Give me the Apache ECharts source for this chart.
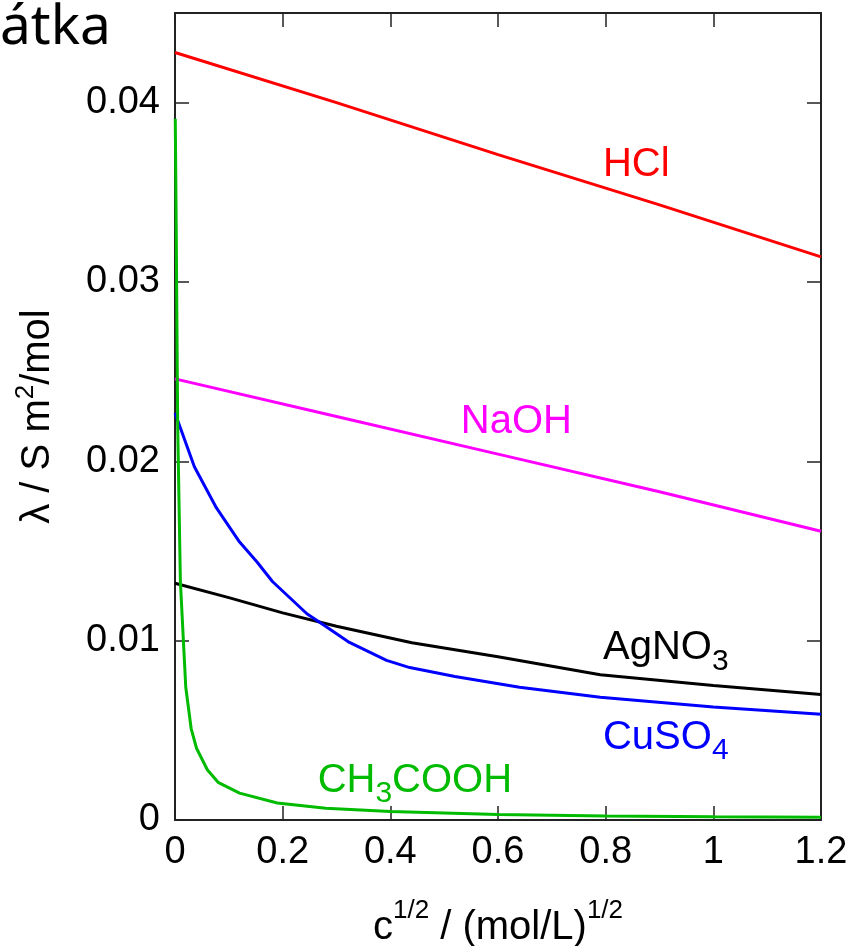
<!DOCTYPE html>
<html><head><meta charset="utf-8">
<script src="https://cdn.jsdelivr.net/npm/echarts@6/dist/echarts.min.js"></script>
<style>html,body{margin:0;padding:0;background:#fff}#c{width:849px;height:946px}</style>
</head><body><div id="c"></div>
<script>
// ---- data (x = sqrt(c) in (mol/L)^1/2, y = molar conductivity in S m^2/mol) ----
const xTickLabels = ['0', '0.2', '0.4', '0.6', '0.8', '1', '1.2'];
const yTickLabels = ['0', '0.01', '0.02', '0.03', '0.04'];

const hclX = [0, 0.3, 0.6, 0.9, 1.2];
const hclY = [0.0428, 0.0400, 0.0371, 0.0343, 0.0314];

const naohX = [0, 0.3, 0.6, 0.9, 1.2];
const naohY = [0.0246, 0.0225, 0.0204, 0.0183, 0.0161];

const agno3X = [0, 0.1, 0.2, 0.3, 0.44, 0.6, 0.79, 1.0, 1.2];
const agno3Y = [0.0132, 0.0124, 0.01155, 0.0108, 0.00988, 0.0091, 0.0081, 0.0075, 0.0070];

const cuso4X = [0, 0.036, 0.077, 0.12, 0.152, 0.181, 0.245, 0.27, 0.324, 0.393, 0.436, 0.52, 0.64, 0.79, 1.0, 1.2];
const cuso4Y = [0.0227, 0.0197, 0.0174, 0.0155, 0.0144, 0.0133, 0.0115, 0.0110, 0.0099, 0.0089, 0.0085, 0.0080, 0.0074, 0.00685, 0.0063, 0.0059];

const aceticX = [0.0005, 0.002, 0.005, 0.01, 0.02, 0.03, 0.04, 0.06, 0.08, 0.12, 0.19, 0.28, 0.4, 0.6, 0.8, 1.0, 1.2];
const aceticY = [0.0391, 0.0340, 0.0220, 0.0133, 0.0074, 0.0051, 0.0040, 0.0028, 0.0021, 0.0015, 0.00095, 0.00065, 0.00047, 0.00030, 0.00023, 0.00018, 0.00015];

const seriesNames = ['HCl', 'NaOH', 'AgNO3', 'CuSO4', 'CH3COOH'];
const labelTexts = ['HCl', 'NaOH', 'AgNO{sub|3}', 'CuSO{sub|4}', 'CH{sub|3}COOH'];
const labelX = [0.795, 0.531, 0.795, 0.795, 0.265];
const labelY = [0.0365, 0.0222, 0.0096, 0.0046, 0.0022];
const colors = ['#ff0000', '#ff00ff', '#000000', '#0000ff', '#00bb00'];

const xs = [hclX, naohX, agno3X, cuso4X, aceticX];
const ys = [hclY, naohY, agno3Y, cuso4Y, aceticY];

const FONT = 'Liberation Sans, Arial, Helvetica, sans-serif';
const frame = '#222';

const chart = echarts.init(document.getElementById('c'), null, {renderer: 'canvas'});

const series = seriesNames.map((name, i) => ({
  name: name,
  type: 'line',
  showSymbol: false,
  smooth: false,
  data: xs[i].map((x, k) => [x, ys[i][k]]),
  lineStyle: {color: colors[i], width: 3},
  itemStyle: {color: colors[i]},
  z: 2 + i,
  markPoint: {
    symbol: 'circle',
    symbolSize: 0,
    data: [{coord: [labelX[i], labelY[i]]}],
    label: {
      show: true,
      position: 'right',
      distance: 0,
      color: colors[i],
      fontSize: 40,
      fontFamily: FONT,
      formatter: labelTexts[i].replace(/^([^{]+)/, '{m|$1}').replace(/\}([^{]+)$/, '}{m|$1}'),
      rich: {
        m: {fontSize: 40, lineHeight: 57, fontFamily: FONT, color: colors[i]},
        sub: {fontSize: 30, lineHeight: 30, padding: [27, 0, 0, 0], fontFamily: FONT, color: colors[i]}
      }
    }
  }
}));

const tickLabelFmtX = v => {
  const idx = Math.round(v / 0.2);
  return Math.abs(v - idx * 0.2) < 1e-9 && xTickLabels[idx] !== undefined ? xTickLabels[idx] : '';
};
const tickLabelFmtY = v => {
  const idx = Math.round(v / 0.01);
  return Math.abs(v - idx * 0.01) < 1e-9 && yTickLabels[idx] !== undefined ? yTickLabels[idx] : '';
};

const axisCommon = {
  type: 'value',
  splitLine: {show: false},
  axisLine: {show: true, onZero: false, lineStyle: {color: frame, width: 2}},
  axisTick: {show: true, inside: true, length: 14, lineStyle: {color: frame, width: 1.5}}
};

chart.setOption({
  animation: false,
  backgroundColor: '#fff',
  grid: {left: 175, right: 28, top: 13, bottom: 126, containLabel: false, outerBoundsMode: 'none'},
  graphic: [{
    type: 'text',
    left: 0,
    top: 1,
    style: {text: 'átka', font: '55px "Noto Sans"', fill: '#000'}
  }],
  xAxis: [
    Object.assign({}, axisCommon, {
      position: 'bottom', min: 0, max: 1.2, interval: 0.2,
      name: '{m|c}{sup|1/2}{m| / (mol/L)}{sup|1/2}',
      nameLocation: 'middle', nameGap: 78,
      nameTextStyle: {
        fontFamily: FONT, fontSize: 40, color: '#000',
        rich: {
          m: {fontSize: 40, lineHeight: 60, fontFamily: FONT, color: '#000'},
          sup: {fontSize: 26, lineHeight: 26, padding: [0, 0, 34, 0], fontFamily: FONT, color: '#000'}
        }
      },
      axisLabel: {show: true, margin: 14, fontSize: 38, fontFamily: FONT, color: '#000', formatter: tickLabelFmtX, showMaxLabel: true, showMinLabel: true}
    }),
    Object.assign({}, axisCommon, {
      position: 'top', min: 0, max: 1.2, interval: 0.2,
      axisLabel: {show: false}
    })
  ],
  yAxis: [
    Object.assign({}, axisCommon, {
      position: 'left', min: 0, max: 0.045, interval: 0.01,
      name: '{m|λ / S m}{sup|2}{m|/mol}',
      nameLocation: 'middle', nameGap: 112,
      nameTextStyle: {
        fontFamily: FONT, fontSize: 40, color: '#000',
        rich: {
          m: {fontSize: 40, lineHeight: 50, fontFamily: FONT, color: '#000'},
          sup: {fontSize: 26, lineHeight: 26, padding: [0, 0, 24, 0], fontFamily: FONT, color: '#000'}
        }
      },
      axisLabel: {show: true, margin: 15, fontSize: 38, fontFamily: FONT, color: '#000', formatter: tickLabelFmtY, showMaxLabel: false}
    }),
    Object.assign({}, axisCommon, {
      position: 'right', min: 0, max: 0.045, interval: 0.01,
      axisLabel: {show: false}
    })
  ],
  series: series
});
</script>
</body></html>
